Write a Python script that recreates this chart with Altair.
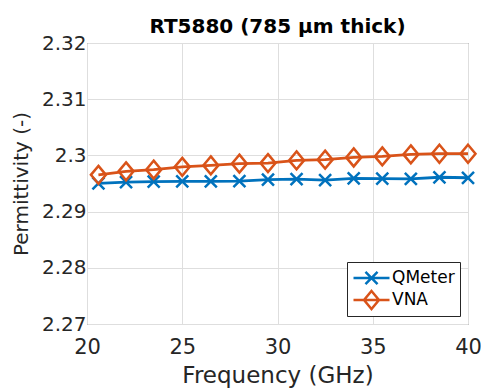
import altair as alt
import pandas as pd

# ---- data ----
freq = [20.6, 22.05, 23.5, 25, 26.5, 28, 29.5, 31, 32.5, 34, 35.5, 37, 38.5, 40]
qmeter = [2.29503, 2.29526, 2.29533, 2.29538, 2.29538, 2.29544, 2.29568,
          2.29579, 2.29561, 2.29591, 2.29586, 2.29583, 2.29611, 2.29602]
vna = [2.29654, 2.29716, 2.29746, 2.29796, 2.29822, 2.29853, 2.29863,
       2.29911, 2.29924, 2.29964, 2.29982, 2.30018, 2.30030, 2.30030]
series_names = ["QMeter", "VNA"]
series_colors = ["#0072BD", "#D95319"]
x_ticks = [20, 25, 30, 35, 40]
y_ticks = [2.27, 2.28, 2.29, 2.30, 2.31, 2.32]

rows = []
for f, q, v in zip(freq, qmeter, vna):
    rows.append({"freq": f, "perm": q, "series": "QMeter"})
    rows.append({"freq": f, "perm": v, "series": "VNA"})
df = pd.DataFrame(rows)

FONT = "DejaVu Sans"
TXT = "#262626"

cross = "M-1,-1L1,1M-1,1L1,-1"
diamond = "M0,-1.2L1,0L0,1.2L-1,0Z"
leg_cross = "M-2,0H2M-0.67,-0.67L0.67,0.67M-0.67,0.67L0.67,-0.67"
leg_diamond = "M-2,0H2M0,-1L0.83,0L0,1L-0.83,0Z"

legend = alt.Legend(
    title=None,
    orient="bottom-right",
    offset=8,
    symbolSize=324,
    symbolStrokeWidth=2.5,
    symbolOpacity=1,
    symbolFillColor="transparent",
    symbolOffset=9,
    labelOffset=10,
    labelFont=FONT,
    labelFontSize=17,
    labelColor="#000000",
    padding=5,
    rowPadding=0,
    clipHeight=22,
    strokeColor="#262626",
    fillColor="white",
    cornerRadius=0,
)

x_enc = alt.X("freq:Q", scale=alt.Scale(domain=[20, 40], nice=False, zero=False),
              axis=alt.Axis(values=x_ticks, title="Frequency (GHz)", format="d",
                            labelFontSize=21, titleFontSize=23, labelFlush=False,
                            labelPadding=12, titlePadding=7))
y_enc = alt.Y("perm:Q", scale=alt.Scale(domain=[2.27, 2.32], nice=False, zero=False),
              axis=alt.Axis(values=y_ticks, title="Permittivity (-)", format=".2~f",
                            labelFontSize=20, titleFontSize=20, labelFlush=False,
                            labelPadding=1, titlePadding=10))
color_scale = alt.Scale(domain=series_names, range=series_colors)

lines = alt.Chart(df).mark_line(strokeWidth=2.8).encode(
    x=x_enc, y=y_enc,
    color=alt.Color("series:N", scale=color_scale, legend=None),
)
points = alt.Chart(df).mark_point(filled=False, strokeWidth=2.5, opacity=1).encode(
    x=x_enc, y=y_enc,
    color=alt.Color("series:N", scale=color_scale, legend=None),
    shape=alt.Shape("series:N", scale=alt.Scale(domain=series_names, range=[cross, diamond]),
                    legend=None),
    size=alt.Size("series:N", scale=alt.Scale(domain=series_names, range=[144, 225]),
                  legend=None),
)
legend_layer = alt.Chart(df).mark_point(filled=False, opacity=0).encode(
    x=x_enc, y=y_enc,
    color=alt.Color("series:N", scale=color_scale, legend=legend),
    shape=alt.Shape("series:N",
                    scale=alt.Scale(domain=series_names, range=[leg_cross, leg_diamond]),
                    legend=legend),
)

chart = (
    alt.layer(lines, points, legend_layer)
    .resolve_scale(color="independent", shape="independent", size="independent")
    .properties(
        width=381,
        height=281,
        background="white",
        title=alt.TitleParams("RT5880 (785 μm thick)", font=FONT, fontSize=20,
                              fontWeight="bold", color="#000000", anchor="middle",
                              offset=12, dy=16),
        autosize=alt.AutoSizeParams(type="none"),
        padding={"left": 87, "top": 43, "right": 13, "bottom": 64},
    )
    .configure_view(stroke="#555555", strokeWidth=1)
    .configure_axis(
        labelFont=FONT, labelColor=TXT,
        titleFont=FONT, titleColor=TXT, titleFontWeight="normal",
        grid=True, gridColor="#dedede", gridWidth=1,
        ticks=False, domain=False,
    )
)

chart.save("out.html", embed_options={"renderer": "svg", "actions": False})
